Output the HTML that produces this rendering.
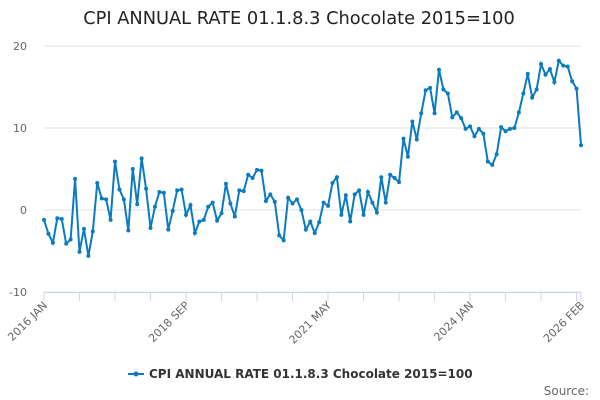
<!DOCTYPE html>
<html><head><meta charset="utf-8"><style>
body{margin:0;background:#fff;font-family:"DejaVu Sans",sans-serif}
svg{display:block}
text{font-family:"DejaVu Sans",sans-serif}
</style></head><body>
<svg id="chart" width="600" height="400">
<text x="299" y="24" text-anchor="middle" font-size="17.8" fill="#222">CPI ANNUAL RATE 01.1.8.3 Chocolate 2015=100</text>
<g id="grid"></g><g id="axes"></g><g id="series"></g>
<g>
<line x1="128" y1="374" x2="144" y2="374" stroke="#0a7bbf" stroke-width="2"/>
<circle cx="136" cy="374" r="2.5" fill="#0a7bbf"/>
<text x="149" y="378" font-size="12" font-weight="bold" fill="#333">CPI ANNUAL RATE 01.1.8.3 Chocolate 2015=100</text>
</g>
<text x="589" y="395" text-anchor="end" font-size="12" fill="#666">Source:</text>
</svg>
<script>
const values=[-1.2,-2.9,-4.0,-1.0,-1.1,-4.1,-3.6,3.8,-5.1,-2.3,-5.6,-2.6,3.3,1.4,1.3,-1.2,5.9,2.5,1.3,-2.5,5.0,0.7,6.3,2.6,-2.2,0.4,2.2,2.1,-2.4,-0.1,2.4,2.5,-0.6,0.6,-2.8,-1.4,-1.2,0.4,0.9,-1.3,-0.4,3.2,0.8,-0.8,2.4,2.3,4.3,3.9,4.9,4.8,1.1,1.9,1.0,-3.1,-3.7,1.5,0.8,1.3,0.0,-2.4,-1.4,-2.8,-1.5,0.9,0.5,3.3,4.0,-0.6,1.8,-1.4,1.9,2.4,-0.6,2.2,0.9,-0.3,4.0,0.9,4.3,3.9,3.4,8.7,6.5,10.8,8.6,11.8,14.6,14.9,11.8,17.1,14.7,14.2,11.3,11.9,11.2,9.9,10.2,9.0,9.9,9.3,5.9,5.5,6.8,10.1,9.6,9.9,10.0,11.9,14.2,16.6,13.7,14.7,17.8,16.5,17.2,15.6,18.2,17.6,17.5,15.7,14.8,7.9];
const yTicks=[-10,0,10,20];
const xLabelIdx=[0,32,64,96,121];
const xLabels=["2016 JAN","2018 SEP","2021 MAY","2024 JAN","2026 FEB"];
const NS="http://www.w3.org/2000/svg";
const x0=44,x1=581,yTop=46,yBot=292;
const xs=i=>x0+i*(x1-x0)/(values.length-1);
const ys=v=>yBot-(v+10)*(yBot-yTop)/30;
function mk(t,a,p){const e=document.createElementNS(NS,t);for(const k in a)e.setAttribute(k,a[k]);p.appendChild(e);return e;}
const grid=document.getElementById('grid'),axes=document.getElementById('axes'),ser=document.getElementById('series');
yTicks.forEach(v=>{
 const l=mk('line',{x1:x0,x2:x1,y1:ys(v),y2:ys(v),stroke:'#e0e0e0','stroke-width':1},grid);
 
 
 const t=mk('text',{x:27,y:ys(v)+4,'text-anchor':'end','font-size':11,fill:'#666'},axes);
 t.textContent=v;
 
 
});
const base=mk('line',{x1:x0,x2:x1,y1:yBot+0.5,y2:yBot+0.5,stroke:'#ccd6eb','stroke-width':1},axes);


for(let i=0;i<values.length;i+=8){
 const tk=mk('line',{x1:xs(i),x2:xs(i),y1:yBot,y2:yBot+9,stroke:'#ccd6eb'},axes);
 
 
}
const last=mk('line',{x1:xs(121),x2:xs(121),y1:yBot,y2:yBot+9,stroke:'#ccd6eb'},axes);


xLabelIdx.forEach((idx,k)=>{
 const x=xs(idx),y=yBot+14;
 const t=mk('text',{x:x+4,y:y,'text-anchor':'end','font-size':11,fill:'#666',transform:`rotate(-45 ${x+4} ${y})`},axes);
 t.textContent=xLabels[k];
 
 
});
const path=mk('polyline',{points:values.map((v,i)=>xs(i)+','+ys(v)).join(' '),fill:'none',stroke:'#0a7bbf','stroke-width':2},ser);


values.forEach((v,i)=>{
 const c=mk('circle',{cx:xs(i),cy:ys(v),r:2,fill:'#0a7bbf'},ser);
 
 
});
</script>
</body></html>
